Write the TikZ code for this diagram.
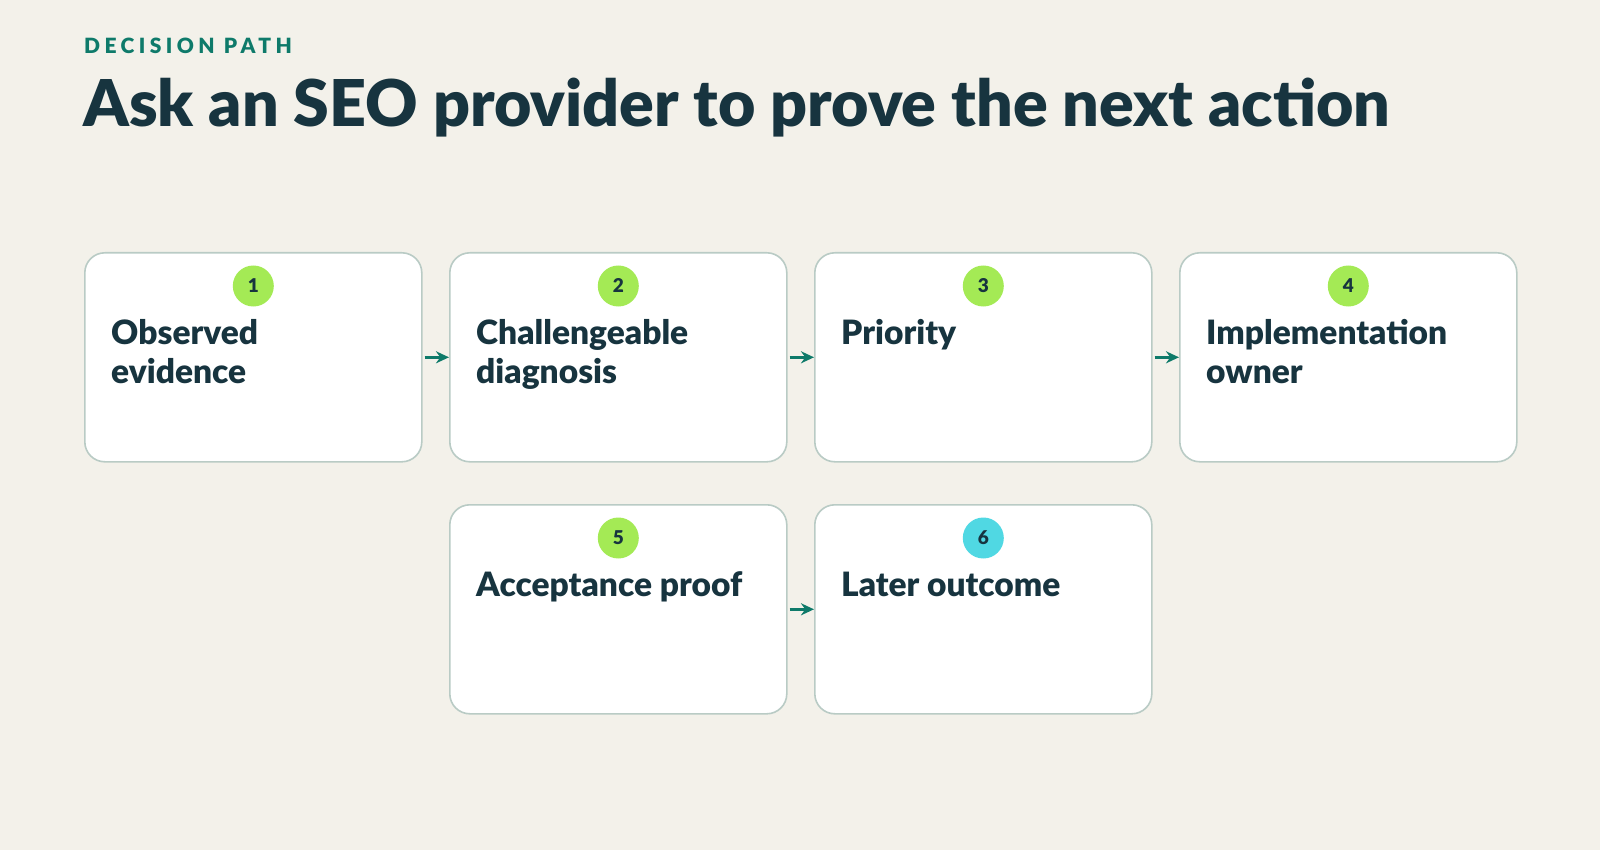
\documentclass[tikz,border=0pt]{standalone}
\usepackage{fontspec}
\setmainfont{Lato}[BoldFont={Lato Black}]
\usetikzlibrary{arrows.meta,calc}
\definecolor{bgc}{HTML}{F3F1EA}
\definecolor{ink}{HTML}{17343F}
\definecolor{tealc}{HTML}{0E7A6A}
\definecolor{edgec}{HTML}{B9CBC5}
\definecolor{limec}{HTML}{A4EA55}
\definecolor{cyanc}{HTML}{50D8E3}
\tikzset{
  card/.style={draw=edgec, line width=1.6pt, fill=white, rounded corners=20pt,
    minimum width=337pt, minimum height=209pt, inner sep=0pt, anchor=north west},
  badge/.style={circle, fill=limec, minimum size=41pt, inner sep=0pt,
    font=\fontsize{19}{19}\selectfont\bfseries, text=ink},
  cardtext/.style={anchor=north west, inner sep=0pt, align=left, text=ink,
    font=\fontsize{33.5}{39}\selectfont\bfseries},
  flow/.style={draw=tealc, line width=3pt, -{Stealth[length=13pt,width=12pt]}, shorten <=2pt, shorten >=0pt}
}
\newcommand{\tstrut}{\rule{0pt}{30pt}}
\begin{document}
\begin{tikzpicture}[x=1pt,y=-1pt]
\fill[bgc] (0,0) rectangle (1600,850);
\useasboundingbox (0,0) rectangle (1600,850);
\node[anchor=base west, inner sep=0pt, text=tealc, font=\fontsize{21}{21}\selectfont\bfseries\addfontfeatures{LetterSpace=21}] (kick) at (84,54) {DECISION PATH};
\node[anchor=base west, inner sep=0pt, text=ink, font=\fontsize{64.5}{64.5}\selectfont\bfseries] (title) at (83,127) {Ask an SEO provider to prove the next action};

\node[card] (b1) at (84,252) {};
\node[card] (b2) at (449,252) {};
\node[card] (b3) at (814,252) {};
\node[card] (b4) at (1179,252) {};
\node[card] (b5) at (449,504) {};
\node[card] (b6) at (814,504) {};

\node[badge] (n1) at ($(b1.north)+(0,34)$) {1};
\node[badge] (n2) at ($(b2.north)+(0,34)$) {2};
\node[badge] (n3) at ($(b3.north)+(0,34)$) {3};
\node[badge] (n4) at ($(b4.north)+(0,34)$) {4};
\node[badge] (n5) at ($(b5.north)+(0,34)$) {5};
\node[badge, fill=cyanc] (n6) at ($(b6.north)+(0,34)$) {6};

\node[cardtext] (t1) at ($(b1.north west)+(27,62)$) {\tstrut Observed\\evidence};
\node[cardtext] (t2) at ($(b2.north west)+(27,62)$) {\tstrut Challengeable\\diagnosis};
\node[cardtext] (t3) at ($(b3.north west)+(27,62)$) {\tstrut Priority};
\node[cardtext] (t4) at ($(b4.north west)+(27,62)$) {\tstrut Implementation\\owner};
\node[cardtext] (t5) at ($(b5.north west)+(27,62)$) {\tstrut Acceptance proof};
\node[cardtext] (t6) at ($(b6.north west)+(27,62)$) {\tstrut Later outcome};

\draw[flow] (b1.east) -- (b2.west);
\draw[flow] (b2.east) -- (b3.west);
\draw[flow] (b3.east) -- (b4.west);
\draw[flow] (b5.east) -- (b6.west);
\end{tikzpicture}
\end{document}
